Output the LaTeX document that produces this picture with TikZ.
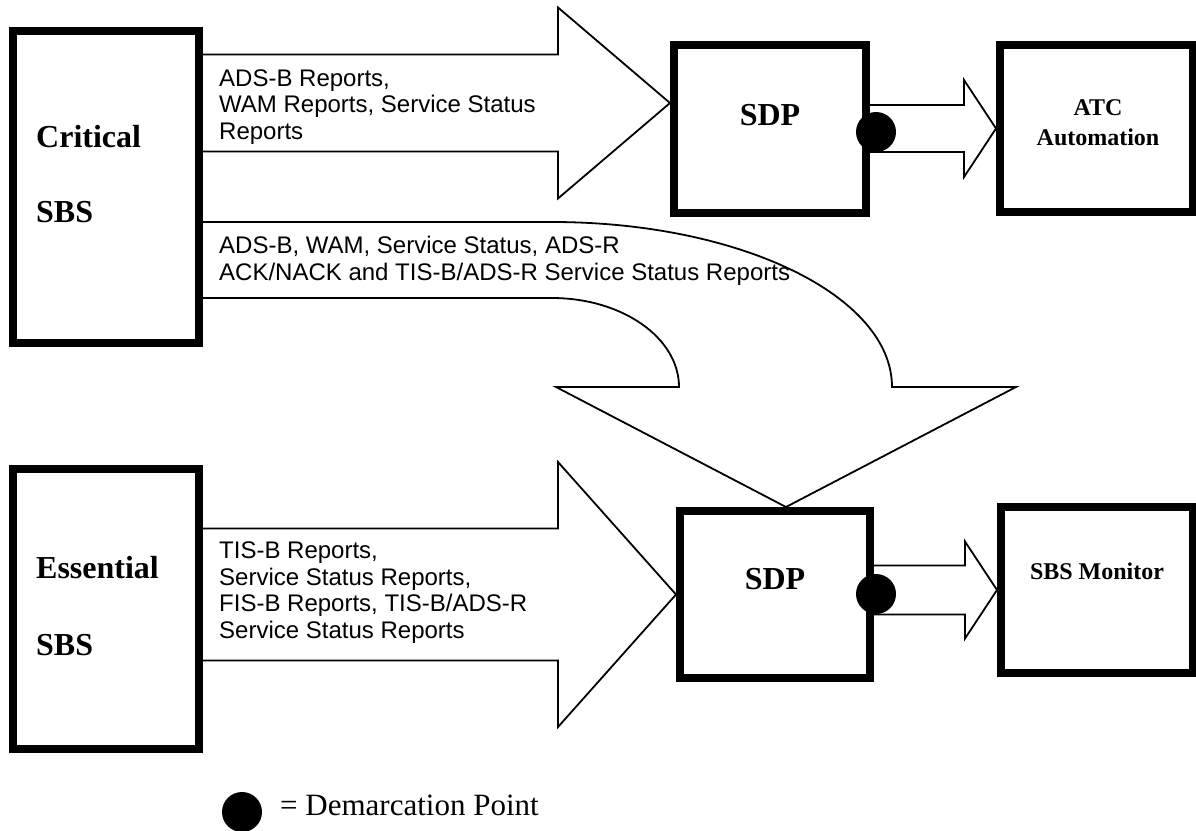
\documentclass[tikz,border=0pt]{standalone}
\usepackage{fontspec}
\setmainfont{Liberation Serif}
\newfontfamily\arialfont{Liberation Sans}
\usetikzlibrary{calc}

\tikzset{
	sysbox/.style={draw, line width=8pt, inner sep=0pt},
	blockarrow/.style={draw, line width=1.8pt, line join=miter},
	demarc/.style={circle, fill=black, minimum size=40pt, inner sep=0pt},
	flowtext/.style={font=\arialfont\fontsize{24}{26.5}\selectfont, align=left, inner sep=0pt, anchor=west},
	boxlabel/.style={font=\bfseries\fontsize{32}{36}\selectfont, inner sep=0pt},
	smalllabel/.style={font=\bfseries\fontsize{24}{30}\selectfont, align=center, inner sep=0pt}
}

% block arrow pointing right: tail, tip, shaft half width, head half width, head length
\newcommand{\blockright}[5]{%
	\draw[blockarrow] ($(#1 |- #2)+(0,-#3)$) -- ($(#2)+(-#5,-#3)$) -- ($(#2)+(-#5,-#4)$)
		-- (#2) -- ($(#2)+(-#5,#4)$) -- ($(#2)+(-#5,#3)$) -- ($(#1 |- #2)+(0,#3)$);
}

\begin{document}
\begin{tikzpicture}[x=1pt, y=-1pt]
	\useasboundingbox (0,0) rectangle (1196,830);

	% systems
	\node[sysbox, minimum width=186pt, minimum height=312pt] (crit) at (106,187) {};
	\node[sysbox, minimum width=186pt, minimum height=280pt] (ess) at (106,609) {};
	\node[sysbox, minimum width=192pt, minimum height=168pt] (sdpA) at (770,129) {};
	\node[sysbox, minimum width=193pt, minimum height=167pt] (atc) at (1096.5,128.5) {};
	\node[sysbox, minimum width=190pt, minimum height=167pt] (sdpB) at (775,594.5) {};
	\node[sysbox, minimum width=192pt, minimum height=166pt] (mon) at (1097,590) {};

	\node[boxlabel, anchor=west] (critA) at (36,137) {Critical};
	\node[boxlabel, anchor=west] (critB) at (36,212) {SBS};
	\node[boxlabel, anchor=west] (essA) at (36,568) {Essential};
	\node[boxlabel, anchor=west] (essB) at (36,645) {SBS};
	\node[boxlabel] (sdpAl) at ([yshift=14pt]sdpA.center) {SDP};
	\node[boxlabel] (sdpBl) at ([yshift=15pt]sdpB.center) {SDP};
	\node[smalllabel] (atcl) at (1098,123) {ATC\\Automation};
	\node[smalllabel] (monl) at (1097,571) {SBS Monitor};

	% report flows
	\coordinate (tipA) at ([yshift=26pt]sdpA.west);
	\blockright{crit.east}{tipA}{48.5}{95.5}{112}
	\blockright{ess.east}{sdpB.west}{66}{132.5}{118}
	\blockright{sdpA.east}{atc.west}{23.5}{48.5}{32}
	\blockright{sdpB.east}{mon.west}{24.5}{48.5}{32}

	% bent flow from critical SBS down to the lower SDP
	\coordinate (tipC) at ([xshift=11pt]sdpB.north);
	\draw[blockarrow] (crit.east |- 0,222) -- (552,222)
		.. controls (739.8,222) and (892,295.9) .. (892,387)
		-- ($(tipC)+(230,-120)$) -- (tipC) -- ($(tipC)+(-230,-120)$) -- (679,387)
		.. controls (679,337.8) and (622.1,298) .. (552,298) -- (crit.east |- 0,298);

	\node[flowtext] (txtA) at (219,107) {ADS-B Reports,\\WAM Reports, Service Status\\Reports};
	\node[flowtext] (txtC) at (219,261) {ADS-B, WAM, Service Status, ADS-R\\ACK/NACK and TIS-B/ADS-R Service Status Reports};
	\node[flowtext] (txtE) at (219,592.5) {TIS-B Reports,\\Service Status Reports,\\FIS-B Reports, TIS-B/ADS-R\\Service Status Reports};

	% demarcation points
	\node[demarc] (dotA) at (876,132) {};
	\node[demarc] (dotB) at (876,594) {};

	% legend
	\node[demarc] (dotL) at (242,812) {};
	\node[font=\fontsize{31}{36}\selectfont, inner sep=0pt, anchor=west] (legend) at (280,805) {= Demarcation Point};
\end{tikzpicture}
\end{document}
